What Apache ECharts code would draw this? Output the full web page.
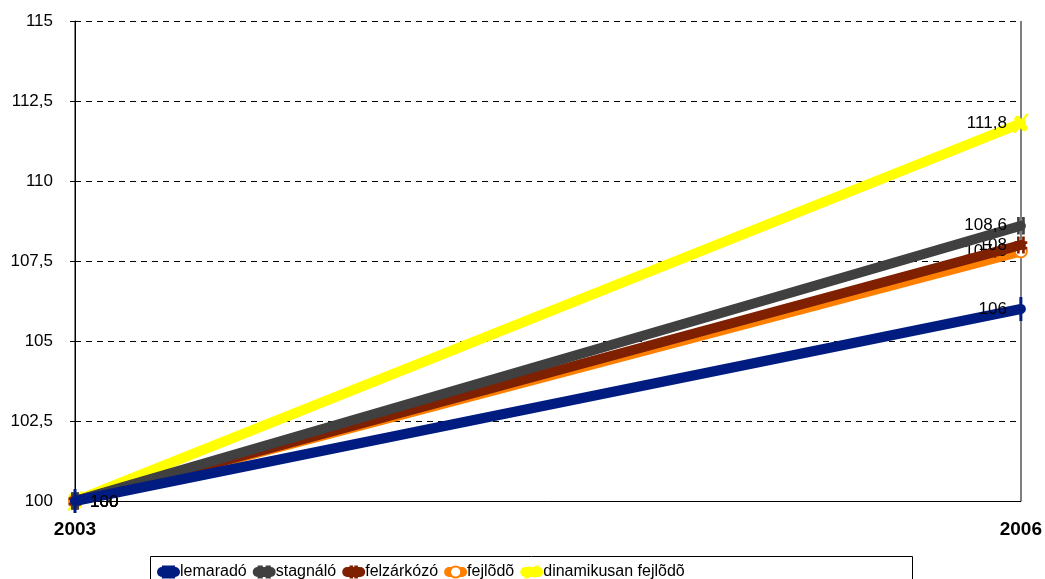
<!DOCTYPE html>
<html>
<head>
<meta charset="utf-8">
<script src="https://cdn.jsdelivr.net/npm/echarts@6/dist/echarts.min.js"></script>
<style>
html,body{margin:0;padding:0;background:#fff;}
#chart{width:1045px;height:579px;}
</style>
</head>
<body>
<div id="chart"></div>
<script>
// adatok
var years = ['2003', '2006'];
var names = ['lemaradó', 'stagnáló', 'felzárkózó', 'fejlõdõ', 'dinamikusan fejlõdõ'];
var lemarado = [100, 106];
var stagnalo = [100, 108.6];
var felzarkozo = [100, 108];
var fejlodo = [100, 107.8];
var dinamikus = [100, 111.8];
var colors = ['#001c80', '#404040', '#7f2000', '#ff8000', '#ffff00'];
var symbols = [
    'path://M0,0h2v20h-2z',
    'path://M0,0h2v20h-2zM5,0h2v20h-2z',
    'path://M3,0h2v20h-2zM9,0h2v20h-2zM0,6h14v2h-14zM0,13h14v2h-14z',
    'emptyCircle',
    'path://M14,0h2l-14,20h-2zM4,2a3,3 0 1,0 0.1,0zM12,12a3,3 0 1,0 0.1,0z'
];
var symbolSizes = [[2, 16], [7, 16], [12, 16], 12, [14, 18]];
var values = [lemarado, stagnalo, felzarkozo, fejlodo, dinamikus];

var chart = echarts.init(document.getElementById('chart'));
var font = 'Liberation Sans, Arial, sans-serif';

function fmt(v) {
    return String(v).replace('.', ',');
}

var series = names.map(function (n, i) {
    return {
        name: n,
        type: 'line',
        z: 10 - i,
        symbol: symbols[i],
        symbolSize: symbolSizes[i],
        showAllSymbol: true,
        itemStyle: {color: colors[i], borderColor: colors[i], borderWidth: 1},
        lineStyle: {width: 10, color: colors[i], cap: 'round'},
        emphasis: {disabled: true},
        data: values[i].map(function (v, j) {
            return {
                value: v,
                label: {
                    show: true,
                    position: 'inside',
                    align: j == 0 ? 'left' : 'right',
                    offset: j == 0 ? [15, 1] : [-14, 0],
                    color: '#000',
                    fontSize: 17,
                    fontFamily: font,
                    formatter: function (p) { return fmt(p.value); }
                }
            };
        })
    };
});

var option = {
    animation: false,
    color: colors,
    grid: {left: 75, right: 24, top: 21, bottom: 78},
    legend: {
        left: 152,
        top: 559,
        itemWidth: 13,
        itemHeight: 14,
        itemGap: 6,
        lineStyle: {width: 10, cap: 'round'},
        textStyle: {color: '#000', fontSize: 16, fontFamily: font},
        data: names
    },
    graphic: [{
        type: 'rect',
        shape: {x: 150.5, y: 556.5, width: 762, height: 40},
        style: {fill: 'none', stroke: '#000', lineWidth: 1},
        z: -1
    }],
    xAxis: {
        type: 'category',
        boundaryGap: false,
        data: years,
        axisLine: {lineStyle: {color: '#000', width: 1}},
        axisTick: {show: false},
        axisLabel: {color: '#000', fontSize: 19, fontWeight: 'bold', fontFamily: font, margin: 19},
        splitLine: {show: true, lineStyle: {color: '#808080', width: 2}}
    },
    yAxis: {
        type: 'value',
        min: 100,
        max: 115,
        interval: 2.5,
        axisLine: {show: true, lineStyle: {color: '#000', width: 1}},
        axisTick: {show: true, length: 5, lineStyle: {color: '#000'}},
        axisLabel: {color: '#000', fontSize: 17, fontFamily: font, margin: 22, formatter: fmt},
        splitLine: {show: true, lineStyle: {color: '#000', type: [6, 5], width: 1}}
    },
    series: series
};
chart.setOption(option);
</script>
</body>
</html>
